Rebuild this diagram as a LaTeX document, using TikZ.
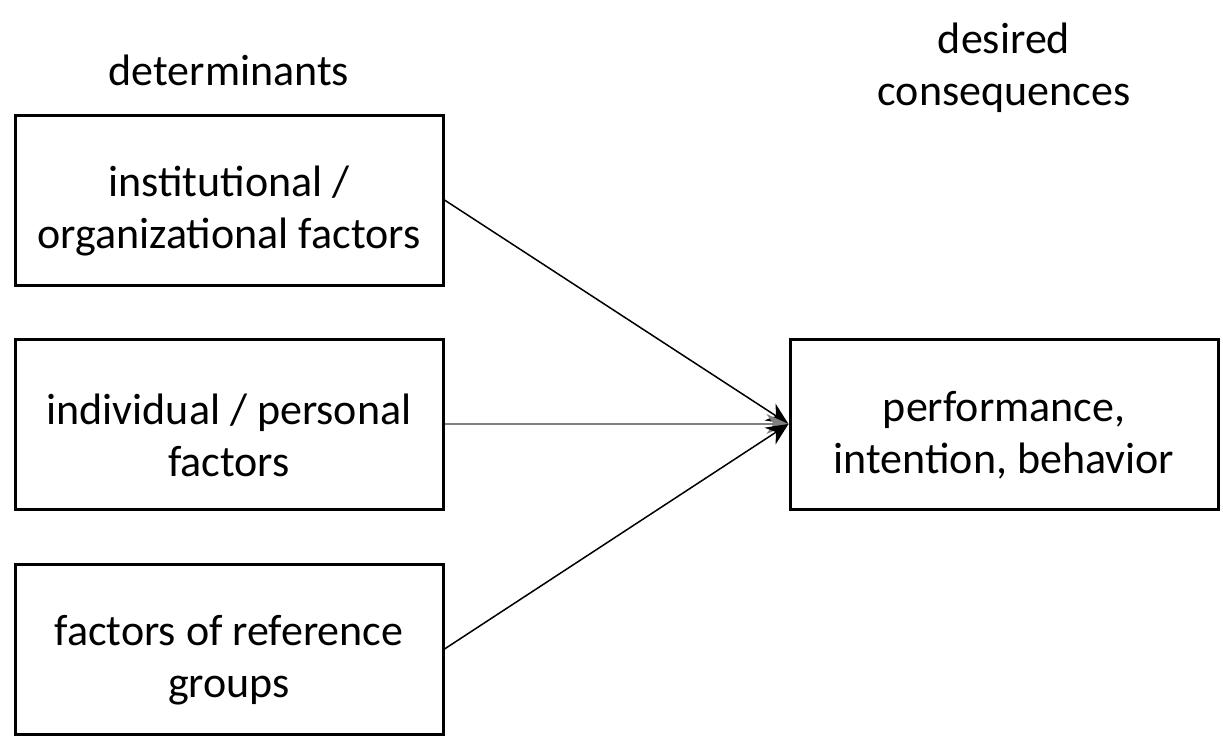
\documentclass[tikz,border=0pt]{standalone}
\usepackage{fontspec}
\setmainfont{Carlito}
\usetikzlibrary{arrows.meta}

\begin{document}
\begin{tikzpicture}[x=1pt,y=-1pt,
  factorbox/.style={draw,line width=3pt,minimum width=428pt,minimum height=170pt,align=center,inner sep=0pt,font=\fontsize{44}{52}\selectfont,text height=105pt},
  headtext/.style={align=center,font=\fontsize{44}{52}\selectfont},
  link/.style={line width=1.5pt,-{Stealth[length=22pt,width=20pt]}}]
        \useasboundingbox (0,0) rectangle (1223,742);
        \node[headtext] (det) at (229,70) {determinants};
        \node[headtext] (cons) at (1004,68) {desired\\consequences};
        \node[factorbox] (inst) at (229,200) {institutional /\\organizational factors};
        \node[factorbox] (indiv) at (229,424) {individual / personal\\factors};
        \node[factorbox] (refgr) at (229,649) {factors of reference\\groups};
        \node[factorbox] (perf) at (1004,424) {performance,\\intention, behavior};
        \draw[link] (inst.east) -- (perf.west);
        \draw[link,gray] (indiv.east) -- (perf.west);
        \draw[link] (refgr.east) -- (perf.west);
      \end{tikzpicture}
\end{document}
